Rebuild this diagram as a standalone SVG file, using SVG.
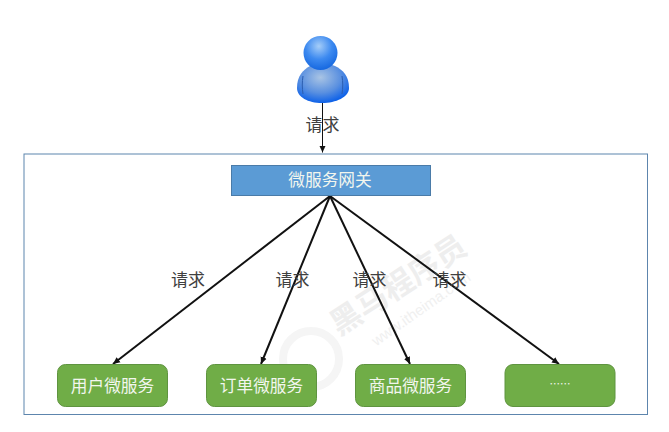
<svg xmlns="http://www.w3.org/2000/svg" width="669" height="432" viewBox="0 0 669 432">
<style>
text{font-family:"Noto Sans CJK SC","Liberation Sans",sans-serif;text-anchor:middle}
.l{font-size:17px;fill:#404040}
.w{font-size:16.700px;fill:#f2f6ee}
.svc{fill:#70ad47;stroke:#5f9440;stroke-width:1}
.c{stroke:#111;stroke-width:2;fill:none;marker-end:url(#a)}
</style>
<defs>
<marker id="a" markerUnits="userSpaceOnUse" markerWidth="8" markerHeight="8" refX="7" refY="4" orient="auto"><path d="M0 0.8L7 4L0 7.2Z" fill="#111"/></marker>
<radialGradient id="h" cx="0.45" cy="0.3" r="0.7"><stop offset="0" stop-color="#a5cdf8"/><stop offset="0.55" stop-color="#3d8af0"/><stop offset="1" stop-color="#1668e0"/></radialGradient>
<radialGradient id="b" cx="0.45" cy="0.35" r="0.65"><stop offset="0" stop-color="#a9c4e4"/><stop offset="0.6" stop-color="#5a90e0"/><stop offset="1" stop-color="#0f62e8"/></radialGradient>
</defs>
<rect x="24" y="154" width="623.500" height="260.500" fill="#fff" stroke="#5d85ad" stroke-width="1"/>
<g id="watermark">
<text transform="translate(404 294) rotate(-33)" style="font-size:31px;font-weight:700;fill:#eeeeee">黑马程序员</text>
<text transform="translate(424 313) rotate(-35)" style="font-size:15px;fill:#f0f0f0;font-family:'Liberation Sans',sans-serif">www.itheima.com</text>
<circle cx="311" cy="359" r="28" fill="none" stroke="#f5f5f5" stroke-width="8"/>
</g>
<g id="connectors">
<path d="M322.500 103V152.500" stroke="#111" stroke-width="1" marker-end="url(#a)" fill="none"/>
<path class="c" d="M330 196L113 364"/>
<path class="c" d="M330 196L261 364"/>
<path class="c" d="M330 196L410 364"/>
<path class="c" d="M330 196L559 364"/>
</g>
<g id="user">
<path d="M297 88C297 76 303 70 310 66C317 63 328 63 335 66C343 70 349 76 349 88C349 97 336 103 322 103C308 103 297 97 297 88Z" fill="url(#b)"/>
<path d="M303 76C302 82 302 88 303 94M342 76C343 82 343 88 342 94" stroke="#2a5db0" stroke-width="1" fill="none"/>
<circle cx="320.500" cy="53" r="17" fill="url(#h)"/>
<text class="l" x="322.500" y="131">请求</text>
</g>
<g id="gateway"><rect x="231.500" y="165.500" width="199" height="30" fill="#5b9bd5" stroke="#4a7ba8"/><text class="w" x="330" y="186">微服务网关</text></g>
<g id="svc1"><rect class="svc" x="57.500" y="364.500" width="110" height="42" rx="8"/><text class="w" x="112.500" y="392">用户微服务</text></g>
<g id="svc2"><rect class="svc" x="206.500" y="364.500" width="110" height="42" rx="8"/><text class="w" x="261.500" y="392">订单微服务</text></g>
<g id="svc3"><rect class="svc" x="355.500" y="364.500" width="110" height="42" rx="8"/><text class="w" x="410.500" y="392">商品微服务</text></g>
<g id="svc4"><rect class="svc" x="505" y="364.500" width="110" height="42" rx="8"/><text x="560" y="388" style="font-size:10.500px;fill:#f2f6ee">……</text></g>
<g id="labels">
<text class="l" x="188" y="286">请求</text>
<text class="l" x="292.500" y="286">请求</text>
<text class="l" x="369.500" y="286">请求</text>
<text class="l" x="449.500" y="286">请求</text>
</g>
</svg>
